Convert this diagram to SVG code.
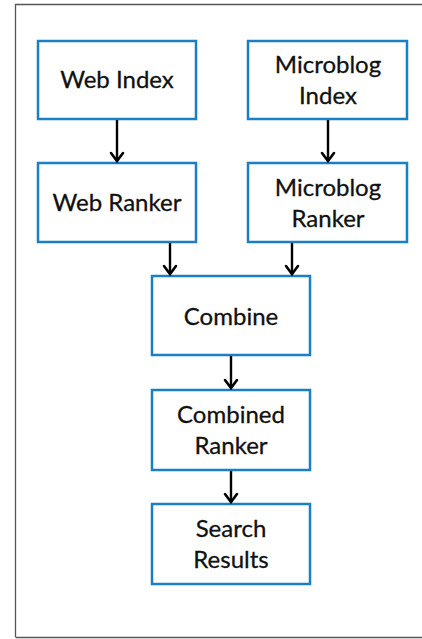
<svg xmlns="http://www.w3.org/2000/svg" width="422" height="639" viewBox="0 0 422 639">
<style>
.box{fill:#ffffff;stroke:#1b7fc3;stroke-width:2.5}
.lbl{font-family:Lato,"Open Sans",sans-serif;font-size:24px;fill:#111;text-anchor:middle;stroke:#111;stroke-width:0.3}
.ln{stroke:#000;stroke-width:2.4;fill:none}
.hd{stroke:#000;stroke-width:2.6;fill:none;stroke-linecap:round;stroke-linejoin:miter}
</style>
<rect width="422" height="639" fill="#fff"/>
<path d="M15.5,637 V4.5 H422 M15.5,637.5 H422" fill="none" stroke="#555" stroke-width="1.3"/>
<g id="web-index"><rect class="box" x="38" y="41" width="158" height="78"/><text class="lbl" x="117" y="88">Web Index</text></g>
<g id="microblog-index"><rect class="box" x="248" y="41" width="159" height="78"/><text class="lbl" x="328" y="73">Microblog</text><text class="lbl" x="328" y="104">Index</text></g>
<g id="web-ranker"><rect class="box" x="38" y="163" width="158" height="79"/><text class="lbl" x="117" y="211">Web Ranker</text></g>
<g id="microblog-ranker"><rect class="box" x="248" y="163" width="159" height="79"/><text class="lbl" x="328" y="196">Microblog</text><text class="lbl" x="328" y="227">Ranker</text></g>
<g id="combine"><rect class="box" x="152" y="276" width="158" height="79"/><text class="lbl" x="231" y="325">Combine</text></g>
<g id="combined-ranker"><rect class="box" x="152" y="390" width="158" height="80"/><text class="lbl" x="231" y="423">Combined</text><text class="lbl" x="231" y="454">Ranker</text></g>
<g id="search-results"><rect class="box" x="152" y="504" width="158" height="80"/><text class="lbl" x="231" y="537">Search</text><text class="lbl" x="231" y="568">Results</text></g>
<g id="connectors">
<line class="ln" x1="117" y1="120" x2="117" y2="161"/><polyline class="hd" points="111,153 117,161 123,153"/>
<line class="ln" x1="328" y1="120" x2="328" y2="161"/><polyline class="hd" points="322,153 328,161 334,153"/>
<line class="ln" x1="170" y1="243" x2="170" y2="274"/><polyline class="hd" points="164,266 170,274 176,266"/>
<line class="ln" x1="292" y1="243" x2="292" y2="274"/><polyline class="hd" points="286,266 292,274 298,266"/>
<line class="ln" x1="231" y1="356" x2="231" y2="388"/><polyline class="hd" points="225,380 231,388 237,380"/>
<line class="ln" x1="231" y1="471" x2="231" y2="502"/><polyline class="hd" points="225,494 231,502 237,494"/>
</g>
</svg>
